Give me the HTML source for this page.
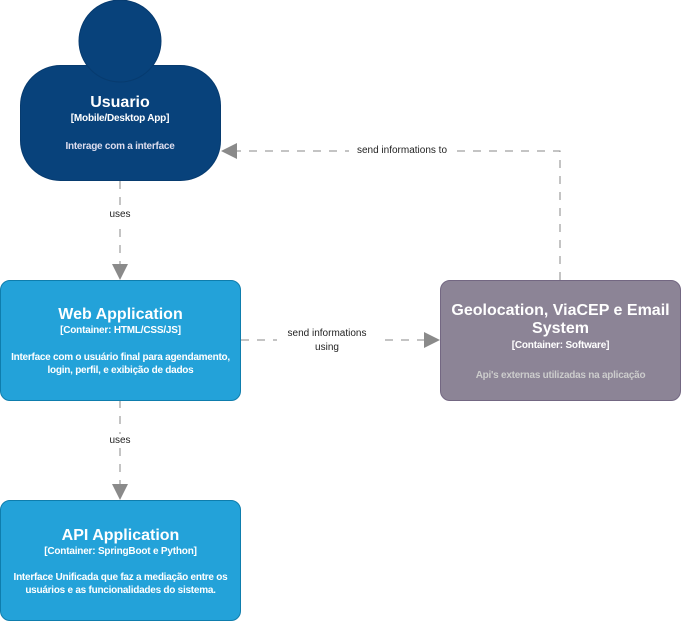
<!DOCTYPE html>
<html><head><meta charset="utf-8"><style>
body{margin:0;width:682px;height:621px;background:#fff;position:relative;font-family:"Liberation Sans",Arial,sans-serif;overflow:hidden}
.box{position:absolute;box-sizing:border-box;border-radius:10px;color:#fff;text-align:center;font-weight:bold}
.t{font-weight:bold;font-size:16px;line-height:18px}
.s{font-size:10px;line-height:13px;letter-spacing:-0.2px}
.d{font-size:10px;line-height:13px;letter-spacing:-0.25px;white-space:nowrap}
.lbl{position:absolute;font-size:10px;background:#fff;text-align:center;line-height:14px;color:#222}
</style></head><body>
<svg width="682" height="621" style="position:absolute;left:0;top:0">
<g stroke="#8a8a8a" stroke-width="1" stroke-dasharray="8,8" fill="none">
<line x1="120" y1="181" x2="120" y2="265"/>
<line x1="120" y1="400" x2="120" y2="485"/>
<line x1="241" y1="340" x2="425" y2="340"/>
<polyline points="560,280 560,151 236,151"/>
</g>
<g fill="#8a8a8a">
<polygon points="112,264 128,264 120,280"/>
<polygon points="112,484 128,484 120,500"/>
<polygon points="424,332 424,348 440,340"/>
<polygon points="237,143 237,159 221,151"/>
</g>
<rect x="20.5" y="65.5" width="200" height="115" rx="40" fill="#08427b" stroke="#073b6f"/>
<circle cx="120" cy="41" r="41" fill="#08427b" stroke="#073b6f"/>
</svg>
<div class="box" style="left:20px;top:94px;width:200px">
<div class="t">Usuario</div><div class="s">[Mobile/Desktop App]</div>
<div class="d" style="margin-top:15px;color:#dde">Interage com a interface</div></div>
<div class="box" style="left:0;top:280px;width:241px;height:121px;background:#23a2d9;border:1px solid #0e7dad;padding-top:25px">
<div class="t">Web Application</div><div class="s">[Container: HTML/CSS/JS]</div>
<div class="d" style="margin-top:14px">Interface com o usuário final para agendamento,<br>login, perfil, e exibição de dados</div></div>
<div class="box" style="left:0;top:500px;width:241px;height:121px;background:#23a2d9;border:1px solid #0e7dad;padding-top:26px">
<div class="t">API Application</div><div class="s">[Container: SpringBoot e Python]</div>
<div class="d" style="margin-top:13px">Interface Unificada que faz a mediação entre os<br>usuários e as funcionalidades do sistema.</div></div>
<div class="box" style="left:440px;top:280px;width:241px;height:121px;background:#8c8496;border:1px solid #736782;padding-top:21px">
<div class="t">Geolocation, ViaCEP e Email<br>System</div><div class="s" style="margin-top:1px">[Container: Software]</div>
<div class="d" style="margin-top:17px;color:#ccc">Api's externas utilizadas na aplicação</div></div>
<div class="lbl" style="left:105px;top:208px;width:30px">uses</div>
<div class="lbl" style="left:105px;top:434px;width:30px">uses</div>
<div class="lbl" style="left:277px;top:327px;width:100px">send informations<br>using</div>
<div class="lbl" style="left:349px;top:144px;width:106px">send informations to</div>
</body></html>
